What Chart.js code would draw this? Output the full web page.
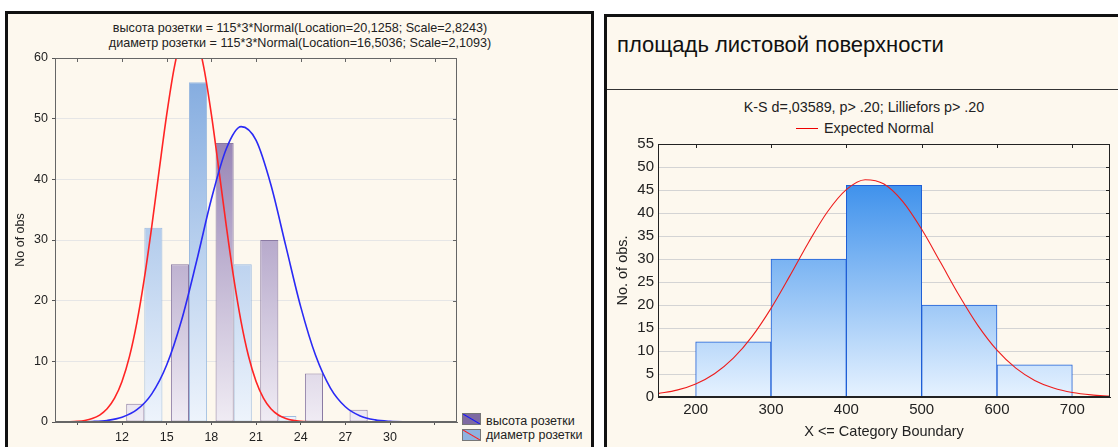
<!DOCTYPE html>
<html>
<head>
<meta charset="utf-8">
<script src="https://cdn.jsdelivr.net/npm/chart.js@4/dist/chart.umd.min.js"></script>
<style>
  body { margin: 0; width: 1118px; height: 447px; background: #fff; position: relative; overflow: hidden;
         font-family: "Liberation Sans", Arial, sans-serif; color: #222; }
  .panel { position: absolute; background: #fdf8ee; border: 3px solid #111; box-sizing: border-box; }
  #leftPanel { left: 5px; top: 11px; width: 589px; height: 460px; }
  #rightPanel { left: 604px; top: 14px; width: 530px; height: 460px; }
  #rightHead { position: absolute; left: 607px; top: 89px; width: 511px; height: 1px; background: #333; }
  .txt { position: absolute; white-space: nowrap; line-height: 1; }
  .c { transform: translate(-50%, -50%); }
  .m { transform: translateY(-50%); }
  canvas { position: absolute; top: 0; }
  .sw { position: absolute; width: 19px; height: 12px; box-sizing: border-box; border: 1px solid #777; }
</style>
</head>
<body>
<div class="panel" id="leftPanel"></div>
<div class="panel" id="rightPanel"></div>
<div id="rightHead"></div>

<div class="txt c" style="left:300px; top:28px; font-size:12.6px;">высота розетки = 115*3*Normal(Location=20,1258; Scale=2,8243)</div>
<div class="txt c" style="left:300px; top:43px; font-size:12.6px;">диаметр розетки = 115*3*Normal(Location=16,5036; Scale=2,1093)</div>

<div class="sw" style="left:462px; top:413px; background: linear-gradient(to top right, transparent calc(50% - 1px), #1010ff, transparent calc(50% + 1px)), #7e6aa2;"></div>
<div class="txt m" style="left:486px; top:421px; font-size:12.5px;">высота розетки</div>
<div class="sw" style="left:462px; top:429px; background: linear-gradient(to top right, transparent calc(50% - 1px), #ff1a1a, transparent calc(50% + 1px)), #8fb2e0;"></div>
<div class="txt m" style="left:486px; top:435px; font-size:12.5px;">диаметр розетки</div>

<div class="txt m" style="left:617px; top:45px; font-size:22px; color:#111;">площадь листовой поверхности</div>
<div class="txt c" style="left:864px; top:107px; font-size:14.3px;">K-S d=,03589, p&gt; .20; Lilliefors p&gt; .20</div>
<div style="position:absolute; left:796px; top:128px; width:22px; height:1px; background:#e00;"></div>
<div class="txt m" style="left:824px; top:128px; font-size:14.3px;">Expected Normal</div>

<canvas id="leftChart" width="592" height="447" style="left:0;"></canvas>
<canvas id="rightChart" width="514" height="447" style="left:604px;"></canvas>

<script>
// Левый график: середины интервалов и частоты
const binCenters = [13.5, 16.5, 19.5, 22.5, 25.5, 28.5];
const heightCounts = [3, 26, 46, 30, 8, 2];      // высота розетки
const diameterCounts = [32, 56, 26, 1, 0, 0];    // диаметр розетки

// Кривые нормального распределения
const heightCurveX = [8, 9, 10, 11, 12, 13, 14, 15, 16, 17, 18, 19, 20, 21, 22, 23, 24, 25, 26, 27, 28, 29, 30, 31, 32];
const heightCurveY = [0, 0.02, 0.08, 0.26, 0.78, 2.02, 4.64, 9.39, 16.77, 26.41, 36.71, 45.01, 48.68, 46.45,
                      39.1, 29.03, 19.02, 10.99, 5.6, 2.52, 1.0, 0.35, 0.11, 0.03, 0.01];
const diameterCurveX = [8, 8.5, 9, 9.5, 10, 10.5, 11, 11.5, 12, 12.5, 13, 13.5, 14, 14.5, 15, 15.5, 16, 16.5,
                        17, 17.5, 18, 18.5, 19, 19.5, 20, 20.5, 21, 21.5, 22, 22.5, 23, 23.5, 24, 24.5, 25];
const diameterCurveY = [0.02, 0.05, 0.12, 0.26, 0.56, 1.14, 2.17, 3.92, 6.68, 10.77, 16.42, 23.68, 32.26, 41.56,
                        50.61, 58.28, 63.43, 65.26, 63.48, 58.37, 50.75, 41.7, 32.4, 23.79, 16.52, 10.84, 6.73,
                        3.95, 2.19, 1.15, 0.57, 0.27, 0.12, 0.05, 0.02];
const leftXTicks = [9, 12, 15, 18, 21, 24, 27, 30, 33];
const leftXLabels = ['12', '15', '18', '21', '24', '27', '30'];

// Правый график: площадь листовой поверхности
const areaBins = [250, 350, 450, 550, 650];
const areaCounts = [12, 30, 46, 20, 7];
const normalX = [150, 175, 200, 225, 250, 275, 300, 325, 350, 375, 400, 425, 450, 475, 500, 525, 550, 575,
                 600, 625, 650, 675, 700, 725, 750];
const normalY = [0.73, 1.49, 2.85, 5.07, 8.45, 13.19, 19.27, 26.33, 33.66, 40.28, 45.09, 47.24, 46.3, 42.48,
                 36.45, 29.28, 22.01, 15.47, 10.18, 6.27, 3.61, 1.95, 0.98, 0.46, 0.2];
const rightXTicks = [200, 300, 400, 500, 600, 700];

const toPoints = (xs, ys) => xs.map((x, i) => ({ x: x, y: ys[i] }));

// вертикальный градиент по всей области графика
function gradient(top, bottom) {
    return (ctx) => {
        const a = ctx.chart.chartArea;
        if (!a) return bottom;
        const g = ctx.chart.ctx.createLinearGradient(0, a.top, 0, a.bottom);
        g.addColorStop(0, top);
        g.addColorStop(1, bottom);
        return g;
    };
}

// рамка вокруг области графика и засечки внутрь сверху и справа
const plotFrame = {
    id: 'plotFrame',
    afterDatasetsDraw(chart, args, opts) {
        const { ctx, chartArea: a, scales } = chart;
        ctx.save();
        ctx.strokeStyle = opts.color;
        ctx.lineWidth = 1;
        ctx.strokeRect(a.left + 0.5, a.top + 0.5, a.right - a.left - 1, a.bottom - a.top - 1);
        ctx.beginPath();
        scales.x.ticks.forEach(t => {
            const px = Math.round(scales.x.getPixelForValue(t.value)) + 0.5;
            ctx.moveTo(px, a.top); ctx.lineTo(px, a.top + 4);
        });
        scales.y.ticks.forEach(t => {
            const py = Math.round(scales.y.getPixelForValue(t.value)) + 0.5;
            ctx.moveTo(a.right, py); ctx.lineTo(a.right - 4, py);
        });
        ctx.stroke();
        ctx.restore();
    }
};

const fontL = { family: '"Liberation Sans", Arial, sans-serif', size: 12.5 };
const fontR = { family: '"Liberation Sans", Arial, sans-serif', size: 15 };
const fontRT = { family: '"Liberation Sans", Arial, sans-serif', size: 14.5 };

new Chart(document.getElementById('leftChart'), {
    type: 'bar',
    plugins: [plotFrame],
    data: {
        datasets: [
            { type: 'line', data: toPoints(heightCurveX, heightCurveY), borderColor: '#2a2af5', borderWidth: 1.6,
              pointRadius: 0, cubicInterpolationMode: 'monotone', order: 0 },
            { type: 'line', data: toPoints(diameterCurveX, diameterCurveY), borderColor: '#ff2424', borderWidth: 1.6,
              pointRadius: 0, cubicInterpolationMode: 'monotone', order: 0 },
            { label: 'высота розетки', data: toPoints(binCenters, heightCounts), order: 1,
              backgroundColor: gradient('#7e67a3', '#f0ecf4'), borderColor: '#8a7aa3', borderWidth: 1,
              barPercentage: 1, categoryPercentage: 0.81, borderSkipped: false },
            { label: 'диаметр розетки', data: toPoints(binCenters, diameterCounts), order: 1,
              backgroundColor: gradient('#7ea8de', '#eef4fc'), borderColor: '#9dbbe0', borderWidth: 1,
              barPercentage: 1, categoryPercentage: 0.81, borderSkipped: false }
        ]
    },
    options: {
        responsive: false,
        animation: false,
        devicePixelRatio: 1,
        layout: { padding: { left: 8, right: 135, top: 58, bottom: 0 } },
        plugins: { legend: { display: false }, tooltip: { enabled: false }, plotFrame: { color: '#666' } },
        scales: {
            x: {
                type: 'linear', min: 7.5, max: 34.5, offset: false,
                afterBuildTicks: axis => { axis.ticks = leftXTicks.map(v => ({ value: v })); },
                afterFit: axis => { axis.height = 25; },
                grid: { drawOnChartArea: false, offset: false, tickLength: 3, color: '#555' },
                border: { color: '#666' },
                ticks: { padding: 5, color: '#222', font: fontL, maxRotation: 0, autoSkip: false,
                         callback: v => leftXLabels.includes(String(v)) ? String(v) : '' }
            },
            y: {
                min: 0, max: 60,
                afterFit: axis => { axis.width = 47; },
                grid: { color: '#e6e6e6', tickLength: 3, tickColor: '#555' },
                border: { color: '#666' },
                ticks: { stepSize: 10, padding: 4, color: '#222', font: fontL },
                title: { display: true, text: 'No of obs', color: '#222', font: fontL, padding: { top: 5, bottom: 0 } }
            }
        }
    }
});

new Chart(document.getElementById('rightChart'), {
    type: 'bar',
    plugins: [plotFrame],
    data: {
        datasets: [
            { type: 'line', data: toPoints(normalX, normalY), borderColor: '#ee1c1c', borderWidth: 1.1,
              pointRadius: 0, cubicInterpolationMode: 'monotone', order: 0 },
            { label: 'площадь листовой поверхности', data: toPoints(areaBins, areaCounts), order: 1,
              backgroundColor: gradient('#1f7fe8', '#e6f2ff'), borderColor: '#1f5fd6', borderWidth: 1,
              barPercentage: 1, categoryPercentage: 1, borderSkipped: 'start' }
        ]
    },
    options: {
        responsive: false,
        animation: false,
        devicePixelRatio: 1,
        layout: { padding: { left: 8, right: 8, top: 144, bottom: 0 } },
        plugins: { legend: { display: false }, tooltip: { enabled: false }, plotFrame: { color: '#222' } },
        scales: {
            x: {
                type: 'linear', min: 150, max: 750, offset: false,
                afterBuildTicks: axis => { axis.ticks = rightXTicks.map(v => ({ value: v })); },
                afterFit: axis => { axis.height = 50; },
                grid: { drawOnChartArea: false, offset: false, drawTicks: false },
                border: { color: '#222' },
                ticks: { padding: 4, color: '#222', font: fontR, maxRotation: 0, autoSkip: false },
                title: { display: true, text: 'X <= Category Boundary', color: '#222', font: fontRT,
                         padding: { top: 0, bottom: 6 } }
            },
            y: {
                min: 0, max: 55,
                afterFit: axis => { axis.width = 46; },
                grid: { color: '#d4d4d4', drawTicks: false },
                border: { color: '#222' },
                ticks: { stepSize: 5, padding: 4, color: '#222', font: fontR },
                title: { display: true, text: 'No. of obs.', color: '#222', font: fontRT, padding: { top: 2, bottom: 0 } }
            }
        }
    }
});
</script>
</body>
</html>
